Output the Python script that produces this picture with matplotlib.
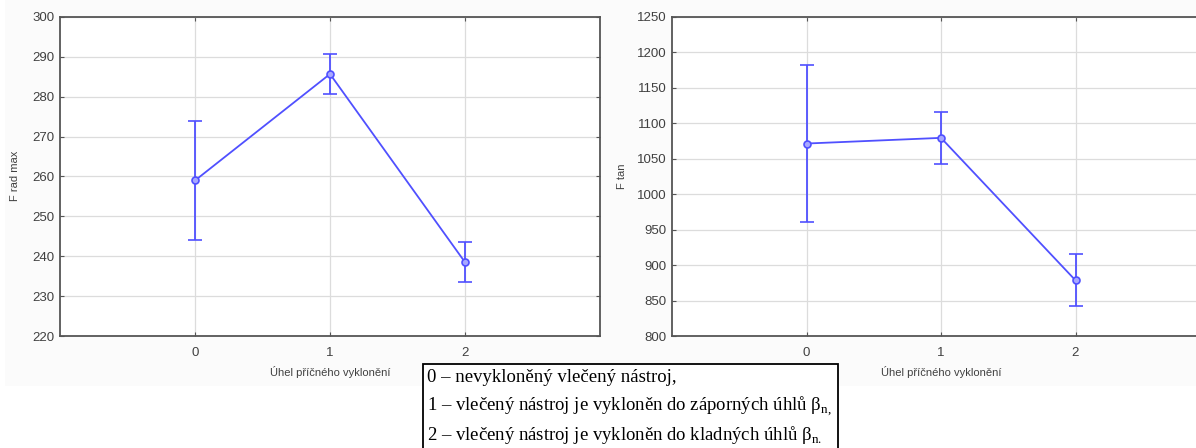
import matplotlib
matplotlib.use("Agg")
import matplotlib.pyplot as plt
import numpy as np
from matplotlib.patches import Rectangle

# tilt angle groups
groups = [0, 1, 2]

# F rad max: means and half-widths of the error bars
frad_mean = [259.0, 285.7, 238.5]
frad_err = [15.0, 5.0, 5.0]

# F tan: means and half-widths of the error bars
ftan_mean = [1071.5, 1079.5, 878.5]
ftan_err = [110.5, 36.5, 36.5]

frad_ticks = [220, 230, 240, 250, 260, 270, 280, 290, 300]
ftan_ticks = [800, 850, 900, 950, 1000, 1050, 1100, 1150, 1200, 1250]

xlabel = "Úhel příčného vyklonění"
legend_lines = [
    r"0 – nevykloněný vlečený nástroj,",
    r"1 – vlečený nástroj je vykloněn do záporných úhlů β$_{\mathrm{n,}}$",
    r"2 – vlečený nástroj je vykloněn do kladných úhlů β$_{\mathrm{n.}}$",
]

LINE = "#5050ff"
TXT = "#404040"

plt.rcParams.update({
    "font.family": ["Liberation Sans", "DejaVu Sans"],
    "mathtext.fontset": "custom",
    "mathtext.rm": "Liberation Serif",
})

W, H = 1196, 448
fig = plt.figure(figsize=(W / 100, H / 100), dpi=100)
fig.patch.set_facecolor("white")

# faint grey backdrop behind the two plots
fig.add_artist(Rectangle((5 / W, 1 - 386 / H), 1.0, 386 / H, transform=fig.transFigure,
                         facecolor="#fbfbfb", edgecolor="none", zorder=-5))


def panel(rect, mean, err, ticks, ylabel, ylabel_x):
    ax = fig.add_axes(rect)
    ax.errorbar(groups, mean, yerr=err, color=LINE, linewidth=1.3,
                elinewidth=1.3, capsize=5, capthick=1.3,
                marker="o", markersize=5, markerfacecolor="#a8a8ff",
                markeredgecolor=LINE, markeredgewidth=1.2, zorder=3)
    ax.set_xlim(-1, 3)
    ax.set_ylim(ticks[0], ticks[-1])
    ax.set_xticks(groups)
    ax.set_yticks(ticks)
    ax.grid(True, color="#dcdcdc", linewidth=0.9)
    ax.set_axisbelow(True)
    ax.set_facecolor("white")
    for s in ax.spines.values():
        s.set_color("#555555")
        s.set_linewidth(1.3)
    ax.tick_params(direction="in", length=3, width=0.8, color="#555555",
                   top=True, right=True, labelsize=9.5, labelcolor=TXT, pad=4)
    ax.tick_params(axis="x", pad=8)
    fig.text(ylabel_x / W, 1 - 176 / H, ylabel, rotation=90, ha="center", va="center",
             fontsize=8, color=TXT)
    return ax


ax1 = panel([60 / W, 1 - 336 / H, 540 / W, 319 / H], frad_mean, frad_err,
            frad_ticks, "F rad max", 15)
fig.text(330 / W, 1 - 372 / H, xlabel, ha="center", va="center", fontsize=8, color=TXT)

# right panel runs past the figure edge, so its right frame is cut off
ax2 = panel([672 / W, 1 - 336 / H, 538 / W, 319 / H], ftan_mean, ftan_err,
            ftan_ticks, "F tan", 622)
fig.text(941 / W, 1 - 372 / H, xlabel, ha="center", va="center", fontsize=8, color=TXT)

# key to the tilt groups
fig.add_artist(Rectangle((423 / W, -0.05), 415 / W, 0.05 + (H - 364) / H,
                         transform=fig.transFigure, facecolor="white",
                         edgecolor="black", linewidth=1.3, zorder=5))
for i, line in enumerate(legend_lines):
    fig.text(427 / W, 1 - (377 + 29 * i) / H, line, ha="left", va="center",
             fontsize=13.5, family="Liberation Serif", color="black", zorder=6)

fig.savefig("out.png", dpi=100)
